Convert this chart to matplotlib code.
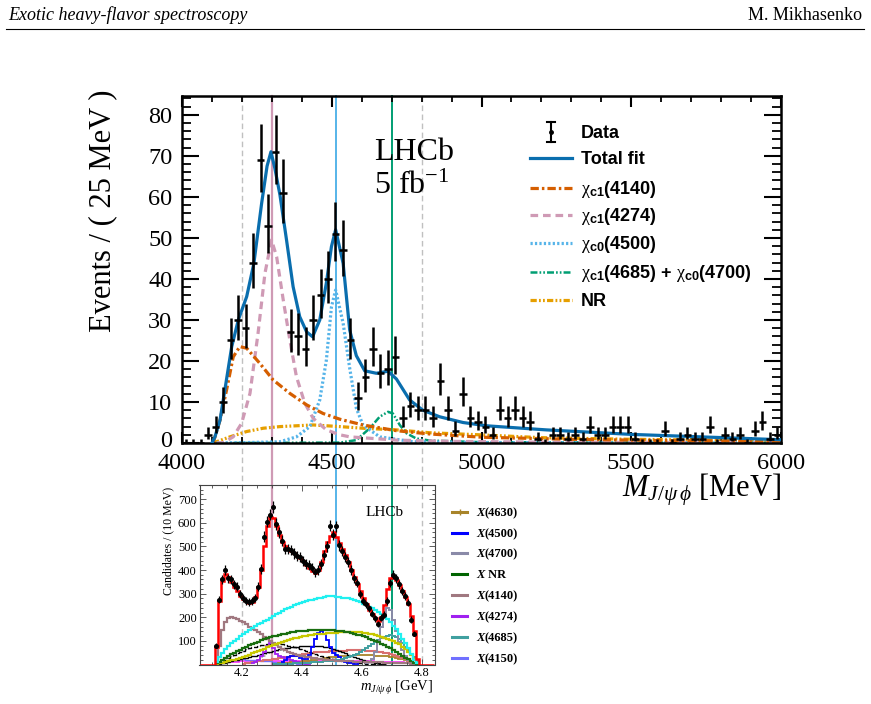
import numpy as np
import matplotlib
matplotlib.use('Agg')
import matplotlib.pyplot as plt
import matplotlib.transforms as mtrans
from matplotlib.lines import Line2D
from matplotlib.ticker import MultipleLocator, FixedLocator
from matplotlib.transforms import blended_transform_factory

plt.rcParams['font.family'] = ['Liberation Serif', 'DejaVu Sans']
plt.rcParams['mathtext.fontset'] = 'custom'
plt.rcParams['mathtext.rm'] = 'Liberation Serif'
plt.rcParams['mathtext.it'] = 'Liberation Serif:italic'
plt.rcParams['mathtext.bf'] = 'Liberation Sans:bold'
plt.rcParams['lines.scale_dashes'] = False

# ---------------- upper panel data (25 MeV bins, 4000-6000 MeV) ----------------
bin_lo, bin_hi, bin_w = 4000, 6000, 25
counts = [0, 0, 0, 2, 4, 10, 25, 30, 28, 44,
          69, 53, 71, 61, 27, 26, 23, 30, 36, 40,
          51, 47, 25, 11, 16, 23, 17, 18, 21, 6,
          9, 8, 8, 6, 15, 8, 3, 12, 6, 5,
          4, 2, 8, 6, 8, 6, 5, 1, 0, 2,
          2, 1, 2, 1, 4, 2, 2, 4, 4, 4,
          1, 0, 0, 0, 3, 0, 1, 2, 1, 1,
          4, 0, 2, 1, 2, 0, 3, 5, 1, 2]
y_ticks = [0, 10, 20, 30, 40, 50, 60, 70, 80]

fit_m = [4100, 4110, 4127, 4143, 4166, 4188, 4216, 4240, 4266, 4284, 4297, 4310, 4327,
         4349, 4371, 4393, 4416, 4436, 4460, 4482, 4499, 4513, 4538, 4560, 4582, 4610,
         4649, 4688, 4716, 4760, 4804, 4860, 4938, 5016, 5216, 5500, 6000]
fit_v = [0, 1.5, 5.6, 12.9, 23.5, 30, 35.7, 43.8, 58.5, 67.5, 71, 67, 60.5,
         49.5, 38.1, 30.8, 27.1, 25.9, 30, 39, 47.9, 52, 43.8, 27.5, 21.3, 17.6,
         17, 17.5, 15.6, 10.5, 8, 6.4, 5, 4.2, 3.2, 2.1, 0.8]

c4140_m = [4104, 4127, 4149, 4171, 4193, 4216, 4260, 4304, 4360, 4416, 4471, 4527, 4604,
           4716, 4827, 5004, 5300, 5600, 6000]
c4140_v = [0, 5.6, 13, 21, 23.5, 23.1, 19.4, 15.4, 12.1, 9.3, 7.2, 5.8, 4.4,
           3.0, 2.2, 1.4, 0.9, 0.6, 0.4]

c4274_m = [4116, 4138, 4171, 4199, 4227, 4254, 4277, 4299, 4316, 4338, 4360, 4382, 4410,
           4438, 4482, 4527, 4560, 4716, 4900, 5200, 6000]
c4274_v = [0, 0.1, 1.5, 4.8, 12.1, 26.8, 41.4, 49.5, 45.4, 34.9, 25.1, 16.2, 9.7,
           6.0, 3.2, 2.0, 1.5, 0.7, 0.4, 0.2, 0.1]

c4500_m = [4116, 4216, 4327, 4382, 4427, 4460, 4482, 4499, 4513, 4538, 4560, 4582, 4604,
           4660, 4771, 5000, 6000]
c4500_v = [0, 0.1, 0.3, 1.5, 4, 10.5, 20.2, 33.2, 37.3, 29.2, 18.2, 8.5, 4.4,
           1.5, 0.3, 0.1, 0.0]

c4700_m = [4116, 4527, 4582, 4627, 4660, 4688, 4704, 4727, 4749, 4782, 4827, 5000, 6000]
c4700_v = [0, 0.1, 0.7, 3.6, 6.4, 7.6, 7.2, 4.4, 2.4, 1.1, 0.6, 0.2, 0.05]

nr_m = [4104, 4160, 4216, 4271, 4327, 4438, 4527, 4604, 4716, 4827, 4993, 5200, 5500, 6000]
nr_v = [0, 1.5, 2.8, 3.6, 4.0, 4.4, 4.0, 3.6, 3.2, 2.5, 2.0, 1.3, 0.9, 0.5]

marker_lines = [4200, 4300, 4513, 4700, 4800]

# ---------------- lower panel data (10 MeV bins) ----------------
lo_data_start = 4115
lo_data = [80, 275, 360, 400, 365, 360, 340, 330, 300, 280,
           270, 265, 268, 280, 330, 405, 540, 605, 635, 668,
           595, 560, 525, 490, 490, 485, 470, 460, 455, 440,
           425, 420, 410, 390, 400, 425, 465, 500, 588, 550,
           585, 505, 480, 455, 435, 400, 365, 345, 300, 270,
           255, 238, 215, 195, 170, 198, 210, 270, 345, 380,
           365, 340, 310, 290, 262, 190, 130]

red_start = 4065
red_fit = [0, 0, 0, 0, 0,
           75, 270, 355, 385, 370, 350, 330, 310, 292, 278,
           268, 262, 265, 285, 330, 400, 500, 585, 625, 620,
           585, 550, 520, 500, 490, 480, 470, 460, 450, 437,
           422, 408, 395, 388, 400, 435, 480, 520, 545, 560,
           540, 515, 490, 462, 432, 400, 370, 342, 312, 283,
           256, 232, 212, 195, 185, 200, 250, 320, 368, 370,
           358, 338, 312, 287, 255, 205, 140, 25,
           0, 0, 0, 0, 0]

cyan_start = 4115
cyan = [10, 30, 50, 65, 78, 90, 100, 110, 120, 128,
        138, 148, 155, 162, 170, 176, 183, 190, 197, 205,
        212, 220, 228, 235, 240, 245, 250, 255, 260, 265,
        268, 272, 275, 278, 280, 283, 286, 288, 290, 288,
        287, 285, 283, 282, 280, 278, 274, 270, 265, 258,
        252, 245, 238, 230, 222, 212, 203, 192, 178, 165,
        150, 130, 110, 90, 70, 45, 20, 5]

xnr_start = 4115
xnr = [5, 12, 20, 28, 36, 43, 50, 57, 63, 69,
       75, 81, 87, 92, 97, 102, 107, 111, 115, 119,
       122, 125, 128, 131, 134, 136, 138, 140, 141, 142,
       143, 144, 145, 145, 146, 146, 146, 145, 145, 144,
       143, 142, 140, 138, 136, 133, 130, 127, 123, 119,
       115, 110, 105, 100, 94, 88, 82, 75, 68, 60,
       52, 45, 37, 29, 22, 14, 7, 2]

yellow_start = 4115
yellow = [2, 5, 8, 11, 14, 17, 20, 24, 28, 32,
          37, 42, 47, 52, 57, 62, 67, 72, 77, 82,
          87, 92, 96, 100, 104, 108, 111, 114, 117, 120,
          122, 124, 126, 128, 129, 130, 131, 132, 133, 134,
          135, 136, 136, 137, 137, 137, 137, 137, 136, 135,
          133, 131, 128, 125, 122, 118, 114, 110, 105, 100,
          93, 85, 76, 66, 55, 40, 22, 5]

x4140_start = 4115
x4140 = [0, 80, 145, 180, 195, 200, 198, 192, 185, 178,
         170, 160, 152, 145, 138, 128, 118, 108, 98, 90,
         82, 74, 67, 60, 55, 50, 45, 41, 38, 35,
         32, 30, 28, 26, 24, 22, 21, 20, 18, 17,
         16, 15, 14, 14, 13, 13, 12, 12, 11, 11,
         10, 10, 10, 9, 9, 9, 8, 8, 8, 7,
         7, 7, 6, 6, 5, 4, 3, 1]

x4700_start = 4615
x4700 = [5, 12, 25, 55, 100, 160, 215, 240, 230, 190, 140, 95, 60, 35, 18, 8, 3]

x4685_start = 4305
x4685 = [1, 2, 2, 3, 3, 4, 4, 5, 5, 6, 6, 7, 8, 9, 10, 11, 12, 13, 14, 15,
         16, 18, 20, 23, 26, 30, 34, 40, 46, 53, 60, 68, 77, 86, 95, 104, 112, 118,
         122, 124, 122, 116, 106, 92, 76, 60, 45, 30, 15]

salmon_start = 4205
salmon = [3, 5, 7, 9, 11, 13, 15, 17, 19, 21,
          23, 25, 27, 29, 31, 33, 35, 37, 39, 41,
          43, 45, 47, 49, 51, 52, 53, 54, 55, 56,
          57, 58, 58, 59, 59, 60, 60, 60, 60, 60,
          60, 59, 58, 57, 56, 54, 52, 50, 47, 44,
          41, 37, 33, 28, 22, 16, 10, 5, 2]

x4630_start = 4305
x4630 = [3, 4, 5, 6, 7, 8, 9, 10, 11, 12,
         13, 14, 16, 18, 20, 22, 24, 26, 28, 30,
         32, 33, 34, 35, 36, 37, 38, 39, 40, 40,
         40, 40, 40, 39, 38, 37, 36, 35, 34, 32,
         30, 28, 25, 22, 18, 14, 9, 5, 2]

x4500_start = 4335
x4500 = [10, 20, 30, 35, 38, 35, 28, 22, 25, 40,
         75, 110, 135, 140, 130, 105, 75, 50, 40, 30,
         20, 12, 8, 5, 3, 2]

x4274_start = 4235
x4274 = [5, 10, 20, 35, 55, 80, 92, 70, 45, 35,
         30, 28, 25, 20, 15, 10, 7, 5, 3, 2]

blk_start = 4125
blk = [2, 5, 8, 11, 14, 17, 20, 23, 26, 29,
       32, 35, 38, 42, 45, 48, 52, 55, 58, 61,
       64, 66, 68, 70, 72, 74, 76, 77, 78, 79,
       80, 80, 79, 78, 77, 75, 72, 69, 65, 61,
       57, 52, 47, 42, 37, 32, 27, 23, 19, 15,
       12, 9, 7, 5, 3, 2]

blkd_start = 4125
blkd = [5, 12, 20, 28, 35, 42, 48, 54, 59, 64,
        68, 72, 76, 79, 82, 84, 86, 87, 88, 88,
        87, 85, 83, 80, 77, 73, 69, 65, 61, 57,
        53, 49, 45, 41, 37, 33, 30, 27, 24, 21,
        18, 16, 14, 12, 10, 8, 7, 6, 5, 4,
        3, 2, 2, 1]

mag_start = 4125
magenta = [3, 6, 8, 10, 11, 12, 12, 13, 13, 13,
           13, 13, 14, 14, 14, 14, 14, 14, 14, 14,
           14, 14, 14, 14, 14, 14, 14, 14, 14, 14,
           14, 14, 14, 14, 14, 14, 14, 14, 14, 14,
           14, 14, 14, 14, 14, 13, 13, 13, 13, 13,
           13, 13, 12, 12, 12, 12, 11, 11, 11, 10,
           10, 9, 8, 7, 5, 3, 1]

x4150_start = 4125
x4150 = [4, 8, 12, 15, 18, 20, 21, 22, 22, 21, 20, 19, 18, 17, 16,
         15, 14, 13, 12, 11, 10, 9, 8, 7, 6, 5, 4, 3, 2, 1]

gdot_start = 4255
gdot = [20, 30, 38, 45, 50, 55, 58, 60, 60, 58, 55, 50, 45, 40, 35, 30, 25, 20, 15, 10]

lower_legend = ['(4630)', '(4500)', '(4700)', ' NR', '(4140)', '(4274)', '(4685)', '(4150)']
lower_legend_colors = ['#a8842a', '#0000ff', '#8a8aa8', '#006400', '#a07880', '#a020f0',
                       '#40a0a0', '#7070ff']

# ---------------- figure ----------------
W, H = 871, 704
def fx(x): return x / W
def fy(y): return 1 - y / H

fig = plt.figure(figsize=(W / 100, H / 100), dpi=100)
fig.patch.set_facecolor('white')

# header
fig.text(fx(8), fy(15), 'Exotic heavy-flavor spectroscopy', style='italic', fontsize=13,
         va='center', ha='left')
fig.text(fx(862), fy(15), 'M. Mikhasenko', fontsize=13, va='center', ha='right')
fig.add_artist(Line2D([fx(6), fx(864)], [fy(29), fy(29)], color='black', lw=0.8))

# main axes
ax = fig.add_axes([fx(182), fy(443), 599 / W, 347 / H])
ax.patch.set_facecolor('none')
ax.set_xlim(bin_lo, bin_hi)
ax.set_ylim(0, 84.6)

C_TOT = '#0a6eae'
C_4140 = '#d55e00'
C_4274 = '#cf9ab5'
C_4500 = '#56b4e9'
C_4700 = '#009e73'
C_NR = '#e69f00'

ls_4140 = (0, (6, 2.2, 1.8, 2.2))
ls_4274 = (0, (5.5, 3.5))
ls_4500 = (0, (1.6, 1.6))
ls_4700 = (0, (5, 1.5, 1.2, 1.5, 1.2, 1.5))
ls_nr = (0, (4.5, 1.6, 1.3, 1.6, 1.3, 1.6))

ax.plot(nr_m, nr_v, color=C_NR, lw=2.3, ls=ls_nr, zorder=2)
ax.plot(c4700_m, c4700_v, color=C_4700, lw=1.8, ls=ls_4700, zorder=2)
ax.plot(c4500_m, c4500_v, color=C_4500, lw=2.3, ls=ls_4500, zorder=2)
ax.plot(c4274_m, c4274_v, color=C_4274, lw=2.3, ls=ls_4274, zorder=2)
ax.plot(c4140_m, c4140_v, color=C_4140, lw=2.3, ls=ls_4140, zorder=2)
ax.plot(fit_m, fit_v, color=C_TOT, lw=2.3, zorder=3)

n = np.array(counts, dtype=float)
centers = np.arange(bin_lo, bin_hi, bin_w) + bin_w / 2
err_up = np.sqrt(n + 0.25) + 0.5
err_lo = np.where(n > 0, np.sqrt(n + 0.25) - 0.5, 0)
ax.errorbar(centers, n, yerr=[err_lo, err_up], xerr=bin_w / 2, fmt='none', ecolor='black',
            elinewidth=1.8, capsize=0, zorder=5, clip_on=True)

ax.xaxis.set_major_locator(MultipleLocator(500))
ax.xaxis.set_minor_locator(MultipleLocator(100))
ax.yaxis.set_major_locator(FixedLocator(y_ticks))
ax.yaxis.set_minor_locator(MultipleLocator(2))
ax.tick_params(which='both', direction='in', top=True, right=True, labelsize=17.5)
ax.tick_params(axis='y', which='major', length=12, width=1.5, pad=7)
ax.tick_params(axis='y', which='minor', length=6.5, width=1.3)
ax.tick_params(axis='x', which='major', length=8, width=1.5, pad=7)
ax.tick_params(axis='x', which='minor', length=4.5, width=1.3)
for s in ax.spines.values():
    s.set_linewidth(1.8)
# lift the "0" label a little so it clears the "4000" label
zero_lbl = ax.yaxis.get_major_ticks()[0].label1
zero_lbl.set_transform(zero_lbl.get_transform() +
                       mtrans.ScaledTranslation(0, 3 / 72, fig.dpi_scale_trans))

fig.text(fx(103), fy(90), 'Events / ( 25 MeV )', rotation=90, fontsize=22,
         ha='center', va='top')
fig.text(fx(781), fy(490), r'$M_{J/\psi\,\phi}$ [MeV]', fontsize=22, ha='right', va='center')
fig.text(fx(374), fy(153), 'LHCb', fontsize=23, ha='left', va='center')
fig.text(fx(374), fy(186), r'5 fb$^{\mathregular{-1}}$', fontsize=23, ha='left', va='center')

# main legend (manual)
rows = [132, 158, 188, 215, 243, 272, 300]
hx0, hx1, tx = 530, 572, 581
lab_kw = dict(fontsize=13, fontweight='bold', family=['Liberation Sans', 'DejaVu Sans'],
              ha='left', va='baseline')
# data entry
yc = rows[0]
fig.add_artist(Line2D([fx(551), fx(551)], [fy(yc - 10), fy(yc + 10)], color='black', lw=1.5))
fig.add_artist(Line2D([fx(547), fx(555)], [fy(yc - 10), fy(yc - 10)], color='black', lw=1.5))
fig.add_artist(Line2D([fx(547), fx(555)], [fy(yc + 10), fy(yc + 10)], color='black', lw=1.5))
fig.add_artist(Line2D([fx(551)], [fy(yc)], color='black', marker='o', ms=2.5))
fig.text(fx(tx), fy(yc + 6), 'Data', **lab_kw)

entries = [
    ('Total fit', C_TOT, '-', 2.3),
    (r'$\mathrm{\chi}_{\mathbf{c1}}$(4140)', C_4140, ls_4140, 2.3),
    (r'$\mathrm{\chi}_{\mathbf{c1}}$(4274)', C_4274, ls_4274, 2.3),
    (r'$\mathrm{\chi}_{\mathbf{c0}}$(4500)', C_4500, ls_4500, 2.3),
    (r'$\mathrm{\chi}_{\mathbf{c1}}$(4685) + $\mathrm{\chi}_{\mathbf{c0}}$(4700)', C_4700, ls_4700, 1.8),
    ('NR', C_NR, ls_nr, 2.3),
]
for (lab, col, ls, lw), yc in zip(entries, rows[1:]):
    fig.add_artist(Line2D([fx(hx0), fx(hx1)], [fy(yc), fy(yc)], color=col, ls=ls, lw=lw))
    fig.text(fx(tx), fy(yc + 6), lab, **lab_kw)

# vertical marker lines across both panels
tr = blended_transform_factory(ax.transData, fig.transFigure)
vl_style = {4200: dict(color='#c0c0c0', ls=(0, (4, 2.5)), lw=1.0),
            4300: dict(color='#cf9ab5', ls='-', lw=1.6),
            4513: dict(color='#56b4e9', ls='-', lw=1.4),
            4700: dict(color='#009e73', ls='-', lw=1.4),
            4800: dict(color='#c0c0c0', ls=(0, (4, 2.5)), lw=1.0)}
for m in marker_lines:
    ln = Line2D([m, m], [fy(96), fy(665)], transform=tr, zorder=-1, **vl_style[m])
    fig.add_artist(ln)

# ---------------- lower panel ----------------
ax2 = fig.add_axes([fx(199.5), fy(664.5), 235 / W, 179.5 / H])
ax2.patch.set_facecolor('none')
mpp = 2000 / 599.0
ax2.set_xlim((4000 + (199.5 - 182) * mpp) / 1000, (4000 + (434.5 - 182) * mpp) / 1000)
ax2.set_ylim(0, 760)

def edges(start, vals):
    return (start - 5 + 10 * np.arange(len(vals) + 1)) / 1000.0

ax2.stairs(magenta, edges(mag_start, magenta), color='#ff30ff', lw=1.2, baseline=None)
ax2.stairs(x4150, edges(x4150_start, x4150), color='#7070ff', lw=1.0, baseline=None)
ax2.stairs(gdot, edges(gdot_start, gdot), color='#999999', lw=1.2, ls=':', baseline=None)
ax2.stairs(x4630, edges(x4630_start, x4630), color='#a8842a', lw=1.3, baseline=None)
ax2.stairs(salmon, edges(salmon_start, salmon), color='#d87070', lw=1.5, baseline=None)
ax2.stairs(blk, edges(blk_start, blk), color='black', lw=1.0, baseline=None)
ax2.stairs(blkd, edges(blkd_start, blkd), color='black', lw=1.0, ls='--', baseline=None)
ax2.stairs(x4274, edges(x4274_start, x4274), color='#a020f0', lw=1.3, baseline=None)
ax2.stairs(x4500, edges(x4500_start, x4500), color='#0000ff', lw=1.3, baseline=None)
ax2.stairs(x4685, edges(x4685_start, x4685), color='#40a0a0', lw=1.4, baseline=None)
ax2.stairs(x4700, edges(x4700_start, x4700), color='#8a8aa8', lw=1.4, baseline=None)
ax2.stairs(x4140, edges(x4140_start, x4140), color='#a07880', lw=1.6, baseline=None)
ax2.stairs(yellow, edges(yellow_start, yellow), color='#c8c800', lw=1.6, baseline=None)
ax2.stairs(xnr, edges(xnr_start, xnr), color='#1a6e10', lw=1.6, baseline=None)
ax2.stairs(cyan, edges(cyan_start, cyan), color='#20f0f0', lw=1.6, baseline=None)
ax2.stairs(red_fit, edges(red_start, red_fit), color='#ff0000', lw=1.8, baseline=None, zorder=4)

d = np.array(lo_data, dtype=float)
dx = (lo_data_start + 10 * np.arange(len(lo_data))) / 1000.0
ax2.errorbar(dx, d, yerr=np.sqrt(d), xerr=0.005, fmt='o', ms=2.6, color='black',
             elinewidth=0.9, capsize=0, zorder=6)

ax2.xaxis.set_major_locator(FixedLocator([4.2, 4.4, 4.6, 4.8]))
ax2.xaxis.set_minor_locator(MultipleLocator(0.05))
ax2.yaxis.set_major_locator(FixedLocator([100, 200, 300, 400, 500, 600, 700]))
ax2.yaxis.set_minor_locator(MultipleLocator(20))
ax2.tick_params(which='both', direction='in', top=True, right=True, color='#444444',
                labelsize=9, width=0.6)
ax2.tick_params(which='major', length=4, pad=2)
ax2.tick_params(which='minor', length=2)
for s in ax2.spines.values():
    s.set_linewidth(0.8)
    s.set_color('#444444')

fig.text(fx(168), fy(487), 'Candidates / (10 MeV)', rotation=90, fontsize=8.5,
         ha='center', va='top')
fig.text(fx(433), fy(688), r'$m_{J/\psi\,\phi}$ [GeV]', fontsize=10.5, ha='right', va='center')
fig.text(fx(366), fy(513), 'LHCb', fontsize=11, ha='left', va='center')

# lower legend
lrows = [512, 533, 553, 574, 595, 616, 637, 658]
renderer = fig.canvas.get_renderer()
for lab, col, yc in zip(lower_legend, lower_legend_colors, lrows):
    fig.add_artist(Line2D([fx(452), fx(467)], [fy(yc), fy(yc)], color=col, lw=2.2))
    if lab == '(4630)':
        fig.add_artist(Line2D([fx(459.5)], [fy(yc)], color=col, marker='|', ms=5, mew=1))
    t = fig.text(fx(476), fy(yc + 4), 'X', fontsize=9, style='italic', fontweight='bold',
                 ha='left', va='baseline')
    bb = t.get_window_extent(renderer)
    fig.text(bb.x1 / fig.bbox.width + 0.0005, fy(yc + 4), lab, fontsize=9, fontweight='bold',
             ha='left', va='baseline')

fig.savefig('out.png', dpi=100)
